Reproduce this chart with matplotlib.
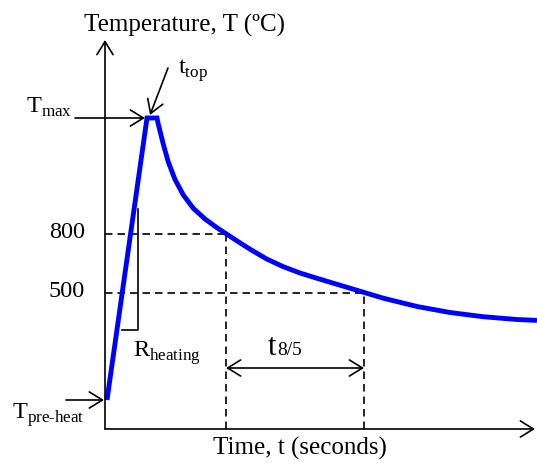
import matplotlib
matplotlib.use('Agg')
import matplotlib.pyplot as plt

plt.rcParams['font.family'] = ['Liberation Serif', 'DejaVu Serif']
plt.rcParams['mathtext.fontset'] = 'custom'
plt.rcParams['mathtext.rm'] = 'Liberation Serif'

# schematic thermal cycle (arbitrary units, origin at the axes corner)
heat_time = [2, 42]
heat_temp = [29, 311]
cool_time = [42, 52, 53, 55.5, 58.5, 63.3, 70, 78.3, 88.3, 100, 111.7, 121, 131.7, 145,
             161.7, 178.3, 195, 211.7, 228.3, 245, 258.3, 278.3, 312, 345, 378, 412, 432]
cool_temp = [311, 311, 306, 296, 284, 267, 249.5, 234, 220.7, 210, 201.5, 195.3, 188.3, 179.8,
             170, 162.3, 156, 150.8, 145.8, 140.8, 136.8, 130.8, 122.5, 116.5, 112.3, 109.5, 108.6]

# reference levels and their crossing times
level_800 = 195.5
level_500 = 136.3
t_800 = 121
t_500 = 259
level_labels = ['800', '500']

fig = plt.figure(figsize=(5.37, 4.71), dpi=100)
ax = fig.add_axes([0, 0, 1, 1])
ax.set_xlim(-105, 432)
ax.set_ylim(-42, 429)
ax.axis('off')

arrow = dict(arrowstyle='->,head_length=0.47,head_width=0.29', lw=1.2,
             color='black', mutation_scale=20, shrinkA=0, shrinkB=0)

# axes with arrows
ax.annotate('', xy=(430, 0), xytext=(0, 0), arrowprops=arrow)
ax.annotate('', xy=(0, 389), xytext=(0, 0), arrowprops=arrow)

# dashed guide lines
dash = dict(color='black', lw=1.2, dashes=(4.5, 3))
ax.plot([0, t_800], [level_800, level_800], **dash)
ax.plot([t_800, t_800], [0, level_800], **dash)
ax.plot([0, t_500], [level_500, level_500], **dash)
ax.plot([t_500, t_500], [0, level_500], **dash)

# the cycle
ax.plot(heat_time + cool_time, heat_temp + cool_temp, color='#0000ff', lw=3.5,
        solid_joinstyle='miter', solid_capstyle='butt')

# heating rate bracket
ax.plot([17, 33, 33], [99, 99, 220], color='black', lw=1.2)

# pointer arrows
ax.annotate('', xy=(40, 311), xytext=(-30, 311), arrowprops=arrow)
ax.annotate('', xy=(45, 314), xytext=(63, 361), arrowprops=arrow)
ax.annotate('', xy=(-1, 29), xytext=(-39, 29), arrowprops=arrow)
ax.annotate('', xy=(t_500, 61), xytext=(t_800, 61),
            arrowprops=dict(arrow, arrowstyle='<->,head_length=0.47,head_width=0.29'))

fs = 17.5
ax.text(80, 397, 'Temperature, T (ºC)', fontsize=18, ha='center', va='baseline')
ax.text(195, -26, 'Time, t (seconds)', fontsize=18, ha='center', va='baseline')
ax.text(-20, level_800 - 5, level_labels[0], fontsize=fs, ha='right', va='baseline')
ax.text(-20, level_500 - 4, level_labels[1], fontsize=fs, ha='right', va='baseline')
ax.text(-79, 316, r'T$_\mathregular{max}$', fontsize=fs, ha='left', va='baseline')
ax.text(73, 355, r't$_\mathregular{top}$', fontsize=fs, ha='left', va='baseline')
ax.text(28, 72, r'R$_\mathregular{heating}$', fontsize=fs, ha='left', va='baseline')
ax.text(-93, 10, r'T$_\mathregular{pre\text{-}heat}$', fontsize=fs, ha='left', va='baseline')
ax.text(163, 74, 't', fontsize=22, ha='left', va='baseline')
ax.text(172, 74, '8/5', fontsize=14, ha='left', va='baseline')

fig.savefig('out.png', dpi=100)
